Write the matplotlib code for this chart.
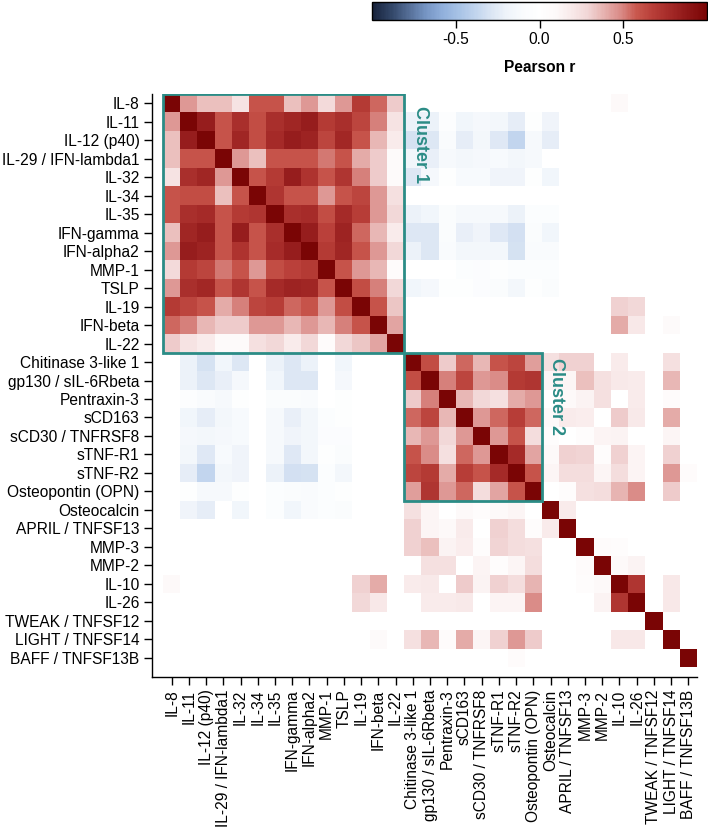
import numpy as np
import matplotlib
matplotlib.use("Agg")
import matplotlib.pyplot as plt
from matplotlib.colors import LinearSegmentedColormap
from matplotlib.patches import Rectangle

plt.rcParams['font.family'] = ['Liberation Sans', 'DejaVu Sans']
plt.rcParams['axes.unicode_minus'] = False

labels = ["IL-8", "IL-11", "IL-12 (p40)", "IL-29 / IFN-lambda1", "IL-32", "IL-34",
          "IL-35", "IFN-gamma", "IFN-alpha2", "MMP-1", "TSLP", "IL-19", "IFN-beta",
          "IL-22", "Chitinase 3-like 1", "gp130 / sIL-6Rbeta", "Pentraxin-3", "sCD163",
          "sCD30 / TNFRSF8", "sTNF-R1", "sTNF-R2", "Osteopontin (OPN)", "Osteocalcin",
          "APRIL / TNFSF13", "MMP-3", "MMP-2", "IL-10", "IL-26", "TWEAK / TNFSF12",
          "LIGHT / TNFSF14", "BAFF / TNFSF13B"]

# Cluster 1 (first 14 variables): lower triangle rows 1..13
c1_lower = [
    [0.45],
    [0.35, 0.85],
    [0.35, 0.60, 0.60],
    [0.22, 0.75, 0.80, 0.45],
    [0.60, 0.62, 0.62, 0.35, 0.60],
    [0.60, 0.75, 0.78, 0.60, 0.70, 0.72],
    [0.35, 0.80, 0.85, 0.60, 0.85, 0.60, 0.75],
    [0.45, 0.85, 0.82, 0.60, 0.73, 0.60, 0.77, 0.85],
    [0.27, 0.70, 0.65, 0.52, 0.60, 0.45, 0.62, 0.67, 0.70],
    [0.45, 0.75, 0.79, 0.60, 0.72, 0.60, 0.78, 0.82, 0.80, 0.60],
    [0.70, 0.65, 0.60, 0.40, 0.50, 0.65, 0.68, 0.55, 0.60, 0.45, 0.62],
    [0.55, 0.50, 0.37, 0.32, 0.32, 0.45, 0.45, 0.37, 0.45, 0.37, 0.50, 0.60],
    [0.32, 0.22, 0.18, 0.08, 0.08, 0.24, 0.28, 0.18, 0.28, 0.06, 0.28, 0.33, 0.42],
]

# Cluster 2 (next 8 variables): lower triangle rows 1..7
c2_lower = [
    [0.62],
    [0.32, 0.50],
    [0.55, 0.65, 0.37],
    [0.37, 0.45, 0.28, 0.45],
    [0.60, 0.48, 0.24, 0.55, 0.45],
    [0.65, 0.70, 0.40, 0.68, 0.60, 0.78],
    [0.43, 0.72, 0.45, 0.55, 0.25, 0.42, 0.60],
]

# Remaining 9 variables: lower triangle rows 1..8
rest_lower = [
    [0.18],
    [0.00, 0.00],
    [0.00, 0.00, 0.07],
    [0.00, 0.00, 0.04, 0.10],
    [0.00, 0.00, 0.00, 0.14, 0.72],
    [0.00, 0.00, 0.00, 0.00, 0.00, 0.00],
    [0.00, 0.00, 0.00, 0.00, 0.20, 0.20, 0.00],
    [0.00, 0.00, 0.00, 0.00, 0.00, 0.00, 0.00, 0.00],
]

# Cluster 2 variables (rows) vs cluster 1 variables (cols)
c2_vs_c1 = [
    [0, -0.21, -0.31, -0.17, -0.28, 0, -0.21, -0.28, -0.21, 0.00, -0.17, 0, 0, 0],
    [0, -0.21, -0.28, -0.22, -0.14, 0, -0.17, -0.28, -0.28, 0.00, -0.14, 0, 0, 0],
    [0, -0.04, -0.10, -0.13, -0.03, 0, -0.08, -0.08, -0.10, 0.00, -0.03, 0, 0, 0],
    [0, -0.17, -0.24, -0.15, -0.11, 0, -0.13, -0.22, -0.15, -0.06, -0.03, 0, 0, 0],
    [0, -0.14, -0.15, -0.14, -0.11, 0, -0.13, -0.18, -0.15, -0.07, -0.07, 0, 0, 0],
    [0, -0.15, -0.27, -0.11, -0.18, 0, -0.13, -0.27, -0.15, -0.03, -0.08, 0, 0, 0],
    [0, -0.24, -0.38, -0.15, -0.18, 0, -0.21, -0.32, -0.31, -0.06, -0.15, 0, 0, 0],
    [0, -0.03, -0.13, -0.13, -0.03, 0, -0.06, -0.08, -0.10, -0.06, -0.03, 0, 0, 0],
]

# Remaining variables (rows) vs cluster 1 variables (cols)
rest_vs_c1 = [
    [0.00, -0.18, -0.24, 0, -0.17, 0, -0.06, -0.17, -0.10, -0.06, -0.08, 0.00, 0.00, 0],
    [0.00, 0, 0, 0, 0, 0, 0, 0, 0, 0, 0, 0.00, 0.00, 0],
    [0.00, 0, 0, 0, 0, 0, 0, 0, 0, 0, 0, 0.00, 0.00, 0],
    [0.00, 0, 0, 0, 0, 0, 0, 0, 0, 0, 0, 0.00, 0.00, 0],
    [0.10, 0, 0, 0, 0, 0, 0, 0, 0, 0, 0, 0.30, 0.40, 0],
    [0.00, 0, 0, 0, 0, 0, 0, 0, 0, 0, 0, 0.28, 0.20, 0],
    [0.00, 0, 0, 0, 0, 0, 0, 0, 0, 0, 0, 0.00, 0.00, 0],
    [0.00, 0, 0, 0, 0, 0, 0, 0, 0, 0, 0, 0.00, 0.09, 0],
    [0.00, 0, 0, 0, 0, 0, 0, 0, 0, 0, 0, 0.00, 0.00, 0],
]

# Remaining variables (rows) vs cluster 2 variables (cols)
rest_vs_c2 = [
    [0.24, 0.12, 0.00, 0.10, 0.04, 0.10, 0.12, 0.00],
    [0.30, 0.12, 0.10, 0.18, 0.00, 0.30, 0.25, 0.04],
    [0.30, 0.35, 0.14, 0.17, 0.04, 0.29, 0.25, 0.24],
    [0.00, 0.24, 0.24, 0.00, 0.13, 0.04, 0.12, 0.25],
    [0.18, 0.19, 0.00, 0.32, 0.14, 0.30, 0.25, 0.38],
    [0.00, 0.18, 0.18, 0.19, 0.00, 0.13, 0.13, 0.48],
    [0.00, 0.00, 0.00, 0.00, 0.00, 0.00, 0.00, 0.00],
    [0.24, 0.37, 0.06, 0.40, 0.12, 0.30, 0.45, 0.32],
    [0.00, 0.00, 0.00, 0.00, 0.00, 0.00, 0.06, 0.00],
]

cluster_sizes = [14, 8]

# ---- assemble symmetric correlation matrix ----
n = len(labels)
M = np.eye(n)
def put_lower(block, off):
    for i, row in enumerate(block, start=1):
        for j, v in enumerate(row):
            M[off + i, off + j] = v
            M[off + j, off + i] = v
def put_rect(block, roff, coff):
    for i, row in enumerate(block):
        for j, v in enumerate(row):
            M[roff + i, coff + j] = v
            M[coff + j, roff + i] = v
put_lower(c1_lower, 0)
put_lower(c2_lower, 14)
put_lower(rest_lower, 22)
put_rect(c2_vs_c1, 14, 0)
put_rect(rest_vs_c1, 22, 0)
put_rect(rest_vs_c2, 22, 14)

nodes = [
    (0.00, "#17223b"), (0.06, "#34496b"), (0.11, "#566f98"), (0.16, "#7695c4"),
    (0.21, "#91b0dc"), (0.26, "#a8c3e6"), (0.31, "#c2d5ee"), (0.36, "#dde7f4"),
    (0.40, "#eef3fa"), (0.45, "#f9fbfd"), (0.50, "#ffffff"), (0.55, "#fdf9f9"),
    (0.60, "#f8e8e8"), (0.645, "#f1d6d6"), (0.695, "#e6b0ae"), (0.745, "#d98985"),
    (0.79, "#c9584e"), (0.84, "#b83e38"), (0.89, "#a52a28"), (0.94, "#901818"),
    (1.00, "#7a0505"),
]
cmap = LinearSegmentedColormap.from_list("pearson", nodes)

fig = plt.figure(figsize=(7.08, 8.32), dpi=100)
W, H = 708, 832
ax = fig.add_axes([152 / W, 1 - 677 / H, 545 / W, 583 / H])

mesh = ax.pcolormesh(np.arange(n + 1), np.arange(n + 1), M, cmap=cmap,
                     vmin=-1, vmax=1, antialiased=False, linewidth=0)
ax.set_xlim(-0.64, n)
ax.set_ylim(n + 0.54, 0)

teal = "#2b8c86"
off = 0
for s in cluster_sizes:
    ax.add_patch(Rectangle((off, off), s, s, fill=False, edgecolor=teal,
                           linewidth=2.0, zorder=3))
    off += s
ax.text(14.92, 0.65, "Cluster 1", rotation=270, ha="center", va="top",
        color=teal, fontsize=13, fontweight="bold")
ax.text(22.87, 14.28, "Cluster 2", rotation=270, ha="center", va="top",
        color=teal, fontsize=13, fontweight="bold")

ticks = np.arange(n) + 0.5
ax.set_xticks(ticks)
ax.set_xticklabels(labels, rotation=90, fontsize=11.2)
ax.set_yticks(ticks)
ax.set_yticklabels(labels, fontsize=11.2)
ax.tick_params(axis="both", direction="out", length=6, width=1, pad=3, color="black")
for sp in ["top", "right"]:
    ax.spines[sp].set_visible(False)
for sp in ["left", "bottom"]:
    ax.spines[sp].set_linewidth(1.0)

cax = fig.add_axes([372 / W, 1 - 20 / H, 335 / W, 18 / H])
cb = fig.colorbar(mesh, cax=cax, orientation="horizontal", ticks=[-0.5, 0.0, 0.5])
cb.outline.set_linewidth(1.0)
cax.tick_params(length=6, width=1, labelsize=11.2, pad=3)
cax.set_xticklabels(["-0.5", "0.0", "0.5"])
cb.set_label("Pearson r", fontsize=11.2, fontweight="bold", labelpad=9)

fig.savefig("out.png", dpi=100)
